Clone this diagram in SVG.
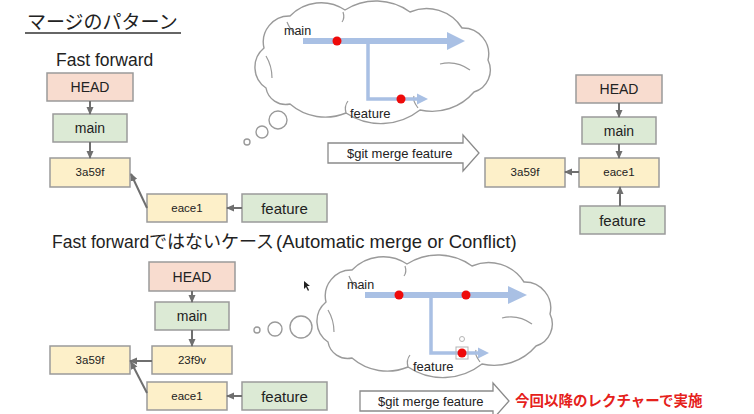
<svg xmlns="http://www.w3.org/2000/svg" width="754" height="414" viewBox="0 0 754 414">
<defs>
<style>
.t{font-family:"Liberation Sans","Noto Sans CJK JP",sans-serif;fill:#222}
.jp{font-family:"Noto Sans CJK JP","Liberation Sans",sans-serif;fill:#222}
.box{stroke:#9a9a9a;stroke-width:1.5}
.head{fill:#f8dccf}
.br{fill:#dcead5}
.cm{fill:#fdf0c9}
.con{stroke:#6f6f6f;stroke-width:2;fill:none;marker-end:url(#ah)}
.cloud{fill:#fff;stroke:#9a9a9a;stroke-width:1.4}
.inner{fill:none;stroke:#9a9a9a;stroke-width:1.2}
.flow{stroke:#a9c0e4;fill:none}
.fhead{fill:#a9c0e4}
.dot{fill:#ee0a0a}
.merge{fill:#fff;stroke:#8a8a8a;stroke-width:1.3}
</style>
<marker id="ah" viewBox="0 0 8 8" refX="7" refY="4" markerWidth="8" markerHeight="8" markerUnits="userSpaceOnUse" orient="auto">
<path d="M0,0.5 L8,4 L0,7.5 Z" fill="#6f6f6f"/>
</marker>
<path id="cloudShape" d="M266,88 A25,25 0 0 1 264,48 A26,26 0 0 1 290,16 A43,43 0 0 1 345,10 A58,58 0 0 1 410,12 A42,42 0 0 1 462,28 A26,26 0 0 1 488,60 A23,23 0 0 1 474,92 A55,55 0 0 1 420,110 A63,63 0 0 1 346,113 A54,54 0 0 1 290,104 A20,20 0 0 1 266,88 Z"/>
<g id="cloudInner">
<path class="inner" d="M266,56 Q272,66 272,78"/>
<path class="inner" d="M287,22 Q290,30 296,34"/>
<path class="inner" d="M343,12 Q345,18 342,22"/>
<path class="inner" d="M440,64 Q456,60 470,70"/>
<path class="inner" d="M418,108 Q412,100 414,96"/>
<path class="inner" d="M346,113 Q344,106 348,101"/>
</g>
</defs>
<rect width="754" height="414" fill="#fff"/>

<!-- Titles -->
<g id="title">
<text class="jp" x="27" y="29" font-size="19">マージのパターン</text>
<line x1="25" y1="33" x2="181" y2="33" stroke="#333" stroke-width="1.5"/>
</g>
<text id="ff-label" class="t" x="56" y="66" font-size="17.5">Fast forward</text>
<text id="nonff-label" class="t" y="248" font-size="17.5"><tspan x="52">Fast forward</tspan><tspan x="149" class="jp" font-size="18">ではないケース</tspan><tspan x="276" font-size="18.5">(Automatic merge or Conflict)</tspan></text>

<!-- Cloud 1 -->
<g id="cloud1">
<circle class="cloud" cx="247" cy="142" r="3"/>
<circle class="cloud" cx="262" cy="132" r="6"/>
<circle class="cloud" cx="278" cy="120" r="9"/>
<use href="#cloudShape" class="cloud"/>
<use href="#cloudInner"/>
<line class="flow" x1="303" y1="41" x2="449" y2="41" stroke-width="6"/>
<polygon class="fhead" points="447,32 465,41 447,50"/>
<polyline class="flow" points="368,41 368,99 419,99" stroke-width="3.5"/>
<polygon class="fhead" points="417,93.5 428,99 417,104.5"/>
<circle class="dot" cx="337" cy="41" r="4.5"/>
<circle class="dot" cx="401" cy="99" r="4.5"/>
<text class="t" x="284" y="35" font-size="12.5">main</text>
<text class="t" x="350" y="118" font-size="13">feature</text>
</g>

<!-- Cloud 2 -->
<g id="cloud2">
<circle class="cloud" cx="257" cy="330" r="3"/>
<circle class="cloud" cx="275" cy="329" r="7"/>
<circle class="cloud" cx="301" cy="327" r="11"/>
<g transform="translate(62,254)">
<use href="#cloudShape" class="cloud"/>
<use href="#cloudInner"/>
</g>
<line class="flow" x1="365" y1="295" x2="510" y2="295" stroke-width="6"/>
<polygon class="fhead" points="508,286 527,295 508,304"/>
<polyline class="flow" points="431,295 431,353 480,353" stroke-width="3.5"/>
<polygon class="fhead" points="478,347.5 489,353 478,358.5"/>
<circle class="dot" cx="399" cy="295" r="4.5"/>
<circle class="dot" cx="466" cy="295" r="4.5"/>
<circle class="dot" cx="462" cy="353" r="4.5"/>
<g fill="none" stroke="#b5b5b5" stroke-width="1">
<rect x="456" y="347" width="12" height="12"/>
<circle cx="462" cy="339" r="2.5"/>
</g>
<text class="t" x="347" y="289" font-size="12.5">main</text>
<text class="t" x="413" y="371" font-size="13">feature</text>
</g>

<!-- cursor -->
<path id="cursor" d="M304,281 L304,289 L306,287 L308,291 L309,290 L307,286 L310,286 Z" fill="#222"/>

<!-- Merge arrows -->
<g id="merge1">
<polygon class="merge" points="328,143 463,143 463,135 479,153 463,171 463,163 328,163"/>
<text class="t" x="347" y="158" font-size="13">$git merge feature</text>
</g>
<g id="merge2">
<polygon class="merge" points="360,391 493,391 493,383 509,401 493,419 493,411 360,411"/>
<text class="t" x="378" y="406" font-size="13">$git merge feature</text>
</g>
<text id="note" class="jp" x="515" y="406" font-size="14.5" font-weight="bold" style="fill:#e5211b">今回以降のレクチャーで実施</text>

<!-- Top-left diagram nodes -->
<g id="a-head"><rect class="box head" x="47" y="73" width="86" height="28"/><text class="t" x="90" y="92" font-size="14" text-anchor="middle">HEAD</text></g>
<g id="a-main"><rect class="box br" x="53" y="114" width="74" height="28"/><text class="t" x="90" y="133" font-size="14" text-anchor="middle">main</text></g>
<g id="a-3a59f"><rect class="box cm" x="50" y="158" width="80" height="29"/><text class="t" x="90" y="176" font-size="11.5" text-anchor="middle">3a59f</text></g>
<g id="a-eace1"><rect class="box cm" x="147" y="194" width="80" height="28"/><text class="t" x="187" y="212" font-size="11.5" text-anchor="middle">eace1</text></g>
<g id="a-feature"><rect class="box br" x="242" y="194" width="85" height="28"/><text class="t" x="284.5" y="213.5" font-size="15" text-anchor="middle">feature</text></g>

<!-- Right diagram nodes -->
<g id="b-head"><rect class="box head" x="576" y="75" width="86" height="28"/><text class="t" x="619" y="94" font-size="14" text-anchor="middle">HEAD</text></g>
<g id="b-main"><rect class="box br" x="582" y="117" width="74" height="27"/><text class="t" x="619" y="135.5" font-size="14" text-anchor="middle">main</text></g>
<g id="b-eace1"><rect class="box cm" x="579" y="158" width="80" height="29"/><text class="t" x="619" y="176" font-size="11.5" text-anchor="middle">eace1</text></g>
<g id="b-3a59f"><rect class="box cm" x="485" y="158" width="80" height="29"/><text class="t" x="525" y="176" font-size="11.5" text-anchor="middle">3a59f</text></g>
<g id="b-feature"><rect class="box br" x="580" y="206" width="85" height="28"/><text class="t" x="622.5" y="225.5" font-size="15" text-anchor="middle">feature</text></g>

<!-- Bottom diagram nodes -->
<g id="c-head"><rect class="box head" x="149" y="262" width="86" height="29"/><text class="t" x="192" y="281.5" font-size="14" text-anchor="middle">HEAD</text></g>
<g id="c-main"><rect class="box br" x="155" y="302" width="74" height="28"/><text class="t" x="192" y="321" font-size="14" text-anchor="middle">main</text></g>
<g id="c-23f9v"><rect class="box cm" x="152" y="346" width="80" height="28"/><text class="t" x="192" y="364" font-size="11.5" text-anchor="middle">23f9v</text></g>
<g id="c-3a59f"><rect class="box cm" x="50" y="346" width="80" height="28"/><text class="t" x="90" y="364" font-size="11.5" text-anchor="middle">3a59f</text></g>
<g id="c-eace1"><rect class="box cm" x="147" y="382" width="80" height="28"/><text class="t" x="187" y="400" font-size="11.5" text-anchor="middle">eace1</text></g>
<g id="c-feature"><rect class="box br" x="242" y="382" width="85" height="28"/><text class="t" x="284.5" y="401.5" font-size="15" text-anchor="middle">feature</text></g>

<!-- Connectors -->
<g id="connectors">
<line class="con" x1="90" y1="101" x2="90" y2="114"/>
<line class="con" x1="90" y1="142" x2="90" y2="158"/>
<line class="con" x1="147" y1="208" x2="131" y2="174"/>
<line class="con" x1="242" y1="208" x2="227" y2="208"/>
<line class="con" x1="619" y1="103" x2="619" y2="117"/>
<line class="con" x1="619" y1="144" x2="619" y2="158"/>
<line class="con" x1="579" y1="172" x2="565" y2="172"/>
<line class="con" x1="620" y1="206" x2="620" y2="187"/>
<line class="con" x1="192" y1="291" x2="192" y2="302"/>
<line class="con" x1="192" y1="330" x2="192" y2="346"/>
<line class="con" x1="152" y1="361" x2="130" y2="361"/>
<line class="con" x1="147" y1="393" x2="131" y2="362"/>
<line class="con" x1="242" y1="396" x2="227" y2="396"/>
</g>
</svg>
